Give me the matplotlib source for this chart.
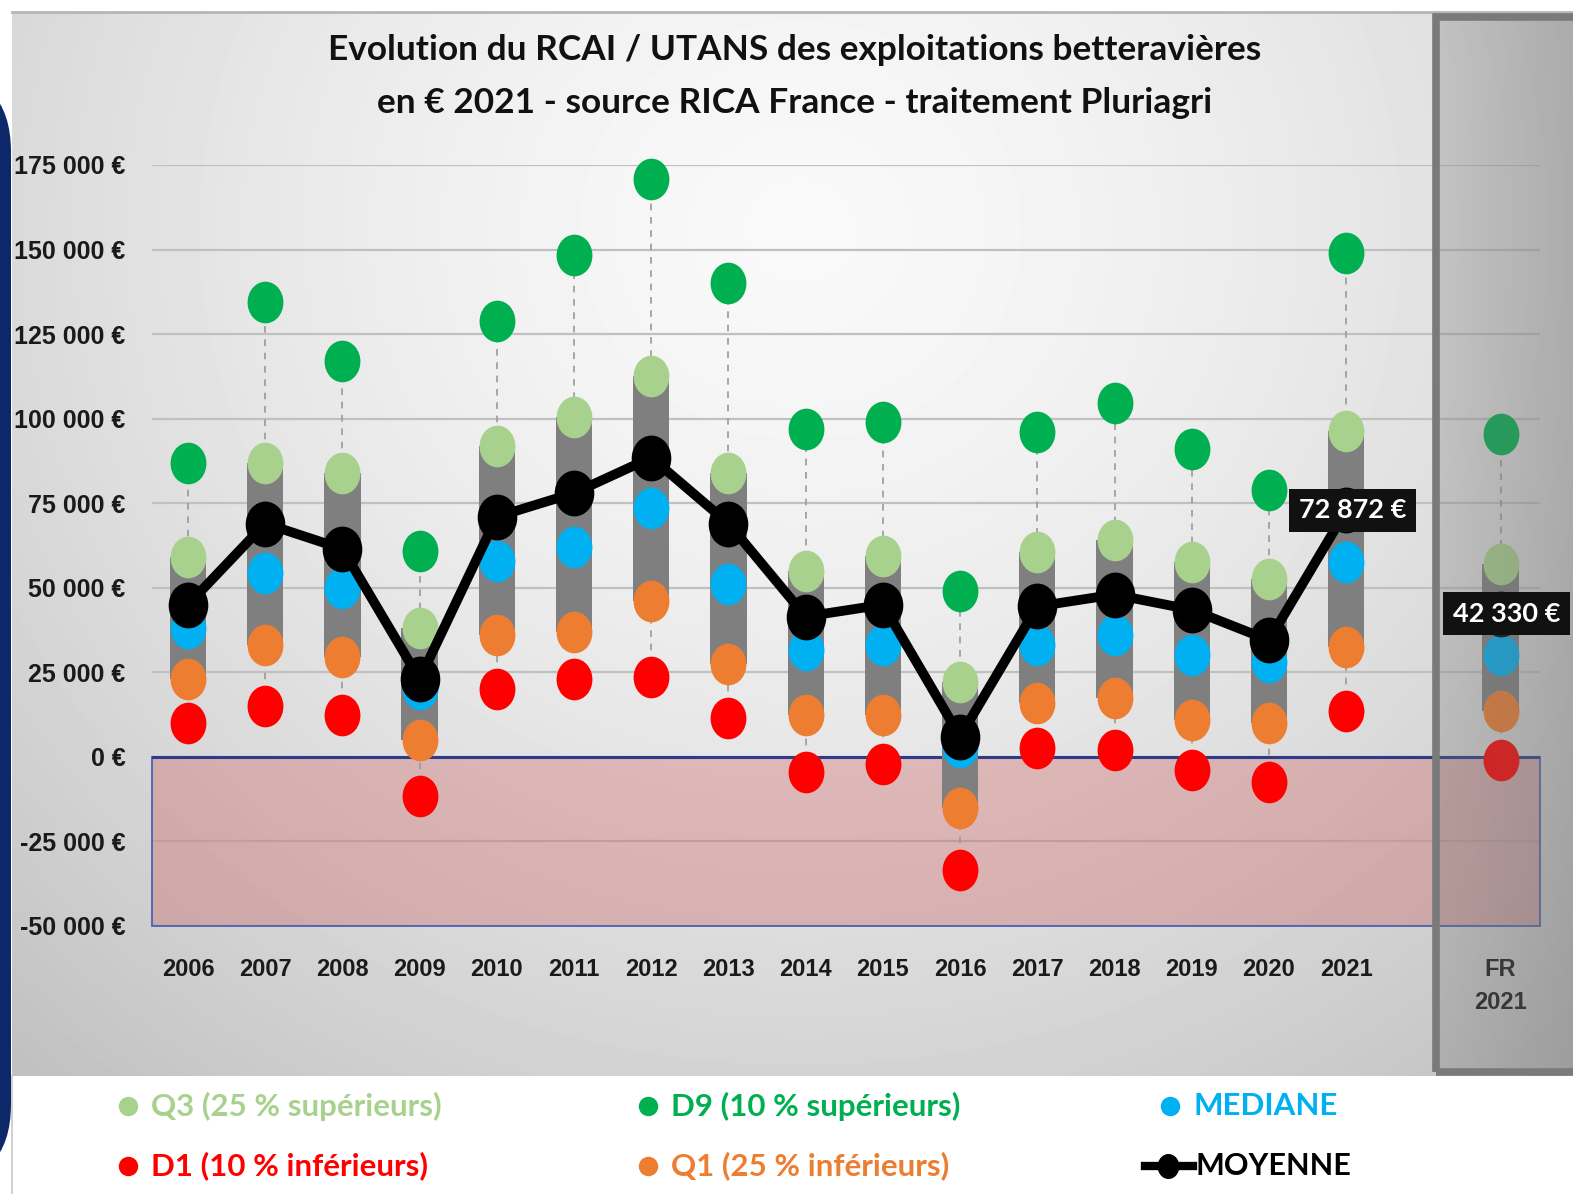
import numpy as np
import matplotlib
matplotlib.use('Agg')
import matplotlib.pyplot as plt
from matplotlib.path import Path
from matplotlib.transforms import Affine2D, offset_copy
from matplotlib.patches import Rectangle, FancyBboxPatch

# data (euros 2021)
categories = [str(y) for y in range(2006, 2022)] + ['FR\n2021']
d9 = [87000, 134500, 117000, 61000, 129000, 148500, 171000, 140000, 97000,
      99000, 49000, 96000, 104500, 91000, 79000, 149000, 95500]
q3 = [59000, 87000, 84000, 38000, 92000, 100500, 112500, 84000, 55000,
      59500, 22000, 60500, 64000, 57500, 52500, 96500, 57000]
mediane = [38000, 54500, 50000, 20000, 58000, 62000, 73500, 51000, 31500,
           33000, 3000, 33000, 36000, 30000, 28000, 57500, 30000]
q1 = [23000, 33000, 29500, 5000, 36000, 37000, 46000, 27500, 12500,
      12500, -15000, 16000, 17500, 11000, 10000, 32500, 13500]
d1 = [10000, 15000, 12500, -11500, 20000, 23000, 23500, 11500, -4500,
      -2000, -33500, 2500, 2000, -4000, -7500, 13500, -1000]
moyenne = [45000, 69000, 61500, 23000, 71000, 78000, 88500, 69000, 41500,
           45000, 6000, 44500, 48000, 43500, 34500, 72872, 42330]

C_D9 = '#00b050'
C_Q3 = '#a9d18e'
C_MED = '#00b0f0'
C_Q1 = '#ed7d31'
C_D1 = '#ff0000'

W, H = 1573, 1194
NARROW = ['Liberation Sans', 'DejaVu Sans']
HUMAN = ['Lato', 'DejaVu Sans']


def euro(v):
    return f"{v:,}".replace(",", " ") + " €"


def fx(px):
    return px / W


def fy(py):
    return 1 - py / H


# slightly tall ellipse marker like the original
ell = Path.unit_circle().transformed(Affine2D().scale(0.86, 1.0))

fig = plt.figure(figsize=(W / 100, H / 100), dpi=100)

# ---- background layer in pixel coordinates
bg = fig.add_axes([0, 0, 1, 1], zorder=0)
bg.axis('off')
yy, xx = np.mgrid[12:1076, 12:W]
r = np.sqrt(((xx - 800) / 950.0) ** 2 + ((yy - 230) / 900.0) ** 2)
shade = 0.975 - 0.16 * np.clip(r, 0, 1.3) ** 1.5
bg.imshow(shade, cmap='gray', vmin=0, vmax=1, extent=(12, W, 1076, 12),
          origin='upper', aspect='auto', interpolation='bilinear')
bg.plot([12, W], [12, 12], color='#b5b5b5', lw=2)
bg.plot([12, 12], [1076, H], color='#c8c8c8', lw=1.2)
bg.add_patch(FancyBboxPatch((-200, 72), 211, 1112,
                            boxstyle="round,pad=0,rounding_size=80",
                            facecolor='#0c2868', edgecolor='none'))
bg.set_xlim(0, W)
bg.set_ylim(H, 0)

# ---- main chart
ax = fig.add_axes([fx(152), fy(926), fx(1540 - 152), (926 - 165) / H], zorder=1)
ax.patch.set_alpha(0)
n = len(categories)
xpos = np.array(list(range(n - 1)) + [n])   # gap before the FR column
yrs = slice(0, n - 1)

ax.set_axisbelow(True)
ax.grid(axis='y', color='#c0c0c0', lw=1.6)
ax.axhspan(-50000, 0, facecolor=(0.8, 0.3, 0.3), alpha=0.3, edgecolor='none', zorder=1)
ax.add_patch(Rectangle((-0.466, -50000), 17.98, 50000, fill=False,
                       edgecolor='#4a62b0', lw=1.3, zorder=1.5, clip_on=False))
ax.axhline(0, color='#2b3c8a', lw=2.2, zorder=1.6)

ax.vlines(xpos, d1, d9, colors='#9a9a9a', linestyles=(0, (4, 4)), lw=1.2, zorder=2)
ax.bar(xpos, np.array(q3) - np.array(q1), bottom=q1, width=0.47,
       color='#7f7f7f', zorder=3)

for vals, col in [(d1, C_D1), (q1, C_Q1), (mediane, C_MED), (q3, C_Q3), (d9, C_D9)]:
    ax.plot(xpos, vals, ls='none', marker=ell, ms=30, mfc=col, mec='none',
            zorder=4, clip_on=False)

ax.plot(xpos[yrs], moyenne[yrs], color='black', lw=7, marker=ell, ms=32,
        zorder=5, clip_on=False)
ax.plot(xpos[-1:], moyenne[-1:], ls='none', color='black', marker=ell, ms=32,
        zorder=5)

ax.set_xlim(-0.466, 17.51)
ax.set_ylim(-50000, 175000)
ticks = list(range(-50000, 175001, 25000))
ax.set_yticks(ticks)
ax.set_yticklabels([euro(t) for t in ticks], family=NARROW, fontsize=18,
                   fontweight='bold', color='#1a1a1a')
ax.set_xticks(xpos)
ax.set_xticklabels(categories, family=NARROW, fontsize=17, fontweight='bold',
                   color='#1a1a1a', linespacing=1.55)
ax.tick_params(axis='both', length=0)
ax.tick_params(axis='y', pad=19)
ax.tick_params(axis='x', pad=23)
for s in ax.spines.values():
    s.set_visible(False)

# ---- translucent grey frame over the FR column
ov = fig.add_axes([fx(1436), fy(1072), fx(W - 1436), (1072 - 17) / H], zorder=2)
ov.axis('off')
ramp = np.linspace(0.27, 0.44, 200)
rgba = np.zeros((2, 200, 4))
rgba[..., :3] = 0.44
rgba[..., 3] = ramp
ov.imshow(rgba, extent=(0, 1, 0, 1), aspect='auto', interpolation='bilinear')
ov.add_patch(Rectangle((0, 0), 1.2, 1, transform=ov.transAxes, fill=False,
                       edgecolor='#7a7a7a', lw=5.5, clip_on=False))
ov.set_xlim(0, 1)
ov.set_ylim(0, 1)

# ---- value labels for the mean (drawn above everything)
label_tr = offset_copy(ax.transData, fig=fig, x=6, y=0, units='dots')
for i in (n - 2, n - 1):
    fig.text(xpos[i], moyenne[i], euro(moyenne[i]), transform=label_tr,
             ha='center', va='center', color='white', fontsize=19.5,
             fontweight='bold', family=HUMAN, zorder=5,
             bbox=dict(boxstyle='square,pad=0.36', facecolor='#111111', edgecolor='none'))

# ---- title
fig.text(fx(795), fy(50), "Evolution du RCAI / UTANS des exploitations betteravières",
         ha='center', va='center', fontsize=25.4, fontweight='bold', family=HUMAN,
         color='#111111')
fig.text(fx(795), fy(103), "en € 2021 - source RICA France - traitement Pluriagri",
         ha='center', va='center', fontsize=25.4, fontweight='bold', family=HUMAN,
         color='#111111')

# ---- legend
legend_items = [
    (128, 1106, C_Q3, "Q3 (25 % supérieurs)"),
    (648, 1106, C_D9, "D9 (10 % supérieurs)"),
    (1170, 1106, C_MED, "MEDIANE"),
    (128, 1166, C_D1, "D1 (10 % inférieurs)"),
    (648, 1166, C_Q1, "Q1 (25 % inférieurs)"),
]
for mx, my, col, lab in legend_items:
    bg.plot([mx], [my], ls='none', marker='o', ms=14, mfc=col, mec='none')
    bg.text(mx + 23, my, lab, ha='left', va='center', color=col, fontsize=22.5,
            fontweight='bold', family=HUMAN)
bg.plot([1145, 1193], [1166, 1166], color='black', lw=6)
bg.plot([1168], [1166], ls='none', marker=ell, ms=17, color='black')
bg.text(1195, 1166, "MOYENNE", ha='left', va='center', color='black', fontsize=22,
        fontweight='bold', family=HUMAN)

fig.savefig('out.png', dpi=100)
